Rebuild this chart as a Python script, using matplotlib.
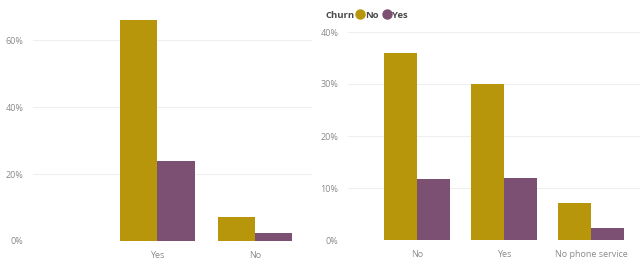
import matplotlib.pyplot as plt
import numpy as np
from matplotlib.lines import Line2D
from matplotlib.ticker import PercentFormatter

# data
left_cats = ["Yes", "No"]
left_no = [0.66, 0.072]
left_yes = [0.239, 0.024]

right_cats = ["No", "Yes", "No phone service"]
right_no = [0.360, 0.300, 0.071]
right_yes = [0.117, 0.119, 0.023]

legend_title = "Churn"
legend_labels = ["No", "Yes"]

gold = "#B8960C"
purple = "#7C5072"
tick_col = "#8a8a8a"
grid_col = "#efefef"
text_col = "#4a4a4a"

plt.rcParams['font.family'] = ['Open Sans', 'DejaVu Sans']

fig = plt.figure(figsize=(6.42, 2.64), dpi=100)
W, H = 642, 264

def px_axes(x0, x1, y_top, y_bot):
    return fig.add_axes([x0 / W, (H - y_bot) / H, (x1 - x0) / W, (y_bot - y_top) / H])

def style(ax, step):
    for s in ax.spines.values():
        s.set_visible(False)
    ax.yaxis.set_major_locator(plt.MultipleLocator(step))
    ax.yaxis.set_major_formatter(PercentFormatter(1.0, decimals=0))
    ax.grid(axis='y', color=grid_col, linewidth=0.8)
    ax.set_axisbelow(True)
    ax.tick_params(length=0, labelsize=6.5, colors=tick_col, pad=7)

w = 0.38

#Left chart
ax1 = px_axes(33, 312, 10, 241)
x = np.arange(len(left_cats))
ax1.bar(x - w / 2, left_no, w, color=gold)
ax1.bar(x + w / 2, left_yes, w, color=purple)
ax1.set_xticks(x, left_cats)
ax1.set_xlim(-1.27, 1.58)
ax1.set_ylim(0, 0.69)
style(ax1, 0.2)

#Right chart
ax2 = px_axes(348, 640, 32, 240)
x = np.arange(len(right_cats))
ax2.bar(x - w / 2, right_no, w, color=gold)
ax2.bar(x + w / 2, right_yes, w, color=purple)
ax2.set_xticks(x, right_cats)
ax2.set_xlim(-0.79, 2.56)
ax2.set_ylim(0, 0.40)
style(ax2, 0.1)

#Legend in one row: title then entries
fig.text(325 / W, 1 - 15 / H, legend_title, fontsize=6.8, fontweight='bold',
         color=text_col, va='center', ha='left')
handles = [Line2D([], [], marker='o', linestyle='', color=gold, markersize=6.5),
           Line2D([], [], marker='o', linestyle='', color=purple, markersize=6.5)]
leg = fig.legend(handles, legend_labels, loc='center left',
                 bbox_to_anchor=(356 / W, 1 - 15 / H), ncol=2, frameon=False,
                 handletextpad=0.1, columnspacing=0.4, handlelength=0.9,
                 borderaxespad=0, borderpad=0,
                 prop={'size': 6.8, 'weight': 'bold'})
for t in leg.get_texts():
    t.set_color(text_col)

fig.savefig("out.png", dpi=100)
